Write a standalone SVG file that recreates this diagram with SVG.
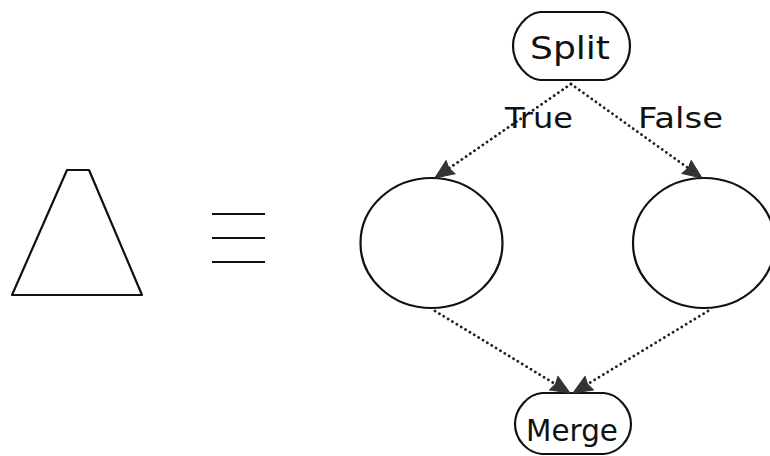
<svg xmlns="http://www.w3.org/2000/svg" width="770" height="456" viewBox="0 0 770 456">
<style>
.shape{fill:none;stroke:#111;stroke-width:2.2;stroke-linejoin:round}
.lbl{font-family:"DejaVu Sans",sans-serif;fill:#111}
.conn{fill:none;stroke:#222;stroke-width:2.8;stroke-dasharray:0.1 5;stroke-linecap:round}
</style>
<defs>
<marker id="ah" markerUnits="userSpaceOnUse" markerWidth="26" markerHeight="22" refX="0" refY="0" viewBox="-22 -11 26 22" orient="auto">
<path d="M0,0 L-19,-8 L-17,0 L-19,8 Z" fill="#333" stroke="#333" stroke-width="1" stroke-linejoin="round"/>
</marker>
</defs>
<rect width="770" height="456" fill="#fff"/>
<g id="trapezoid">
<path class="shape" d="M67,170 L89,170 L142,295 L12,295 Z"/>
</g>
<g id="equiv">
<path class="shape" d="M212,214 H265 M212,238 H265 M212,262 H265"/>
</g>
<g id="split">
<path class="shape" d="M540,12 H604 C616,13 630,28 630,46 C630,64 616,79 604,80 H540 C528,79 513,64 513,46 C513,28 528,13 540,12 Z"/>
<text class="lbl" x="530" y="59" font-size="32" textLength="80" lengthAdjust="spacingAndGlyphs">Split</text>
</g>
<g id="left">
<ellipse class="shape" cx="431.5" cy="243" rx="71" ry="65"/>
</g>
<g id="right">
<ellipse class="shape" cx="704" cy="243" rx="71" ry="65"/>
</g>
<g id="merge">
<path class="shape" d="M542,393 H604 C618,394 631,409 631,424 C631,440 618,453 604,454 H542 C528,453 515,440 515,424 C515,409 528,394 542,393 Z"/>
<text class="lbl" x="526" y="441" font-size="31" textLength="92" lengthAdjust="spacingAndGlyphs">Merge</text>
</g>
<g id="connectors">
<path class="conn" d="M571,84 L435,178" marker-end="url(#ah)"/>
<path class="conn" d="M571,84 L702,178" marker-end="url(#ah)"/>
<path class="conn" d="M435,311 L570,393" marker-end="url(#ah)"/>
<path class="conn" d="M708,311 L573,393" marker-end="url(#ah)"/>
<text class="lbl" x="505" y="128" font-size="29" textLength="68" lengthAdjust="spacingAndGlyphs">True</text>
<text class="lbl" x="638" y="128" font-size="29" textLength="85" lengthAdjust="spacingAndGlyphs">False</text>
</g>
</svg>
